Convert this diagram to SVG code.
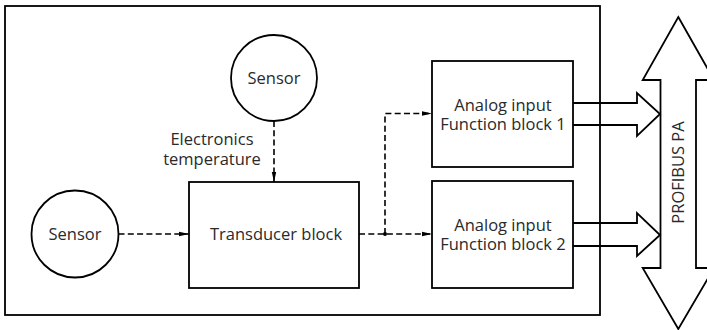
<svg xmlns="http://www.w3.org/2000/svg" width="707" height="330" viewBox="0 0 707 330">
<style>
.box{fill:#fff;stroke:#000;stroke-width:1.8}
.frame{fill:none;stroke:#000;stroke-width:1.8}
.hollow{fill:none;stroke:#000;stroke-width:1.8;stroke-linejoin:miter}
.dash{fill:none;stroke:#000;stroke-width:1.6;stroke-dasharray:6 3.3}
text{font-family:"Open Sans","Noto Sans","DejaVu Sans",sans-serif;font-size:16.5px;fill:#2a2a2a;text-anchor:middle}
</style>
<defs>
<marker id="ah" markerWidth="10" markerHeight="6" refX="10" refY="3" orient="auto" markerUnits="userSpaceOnUse">
<path d="M0,0.8 L10,3 L0,5.2 Z" fill="#000"/>
</marker>
</defs>
<rect id="device" class="frame" x="5" y="6" width="595" height="309"/>
<g id="sensor-top">
<circle class="box" cx="274" cy="78" r="43"/>
<text x="274" y="84">Sensor</text>
</g>
<g id="sensor-left">
<circle class="box" cx="75" cy="234" r="43.5"/>
<text x="75" y="240">Sensor</text>
</g>
<g id="transducer">
<rect class="box" x="189" y="182" width="170" height="106"/>
<text x="276" y="240">Transducer block</text>
</g>
<g id="fb1">
<rect class="box" x="432" y="61" width="141" height="106"/>
<text x="503" y="110.5">Analog input</text>
<text x="503" y="129.5">Function block 1</text>
</g>
<g id="fb2">
<rect class="box" x="432" y="181" width="141" height="107"/>
<text x="503" y="230.5">Analog input</text>
<text x="503" y="249.5">Function block 2</text>
</g>
<g id="bus">
<path class="hollow" d="M678.3,17 L714,80 L696,80 L696,268 L714,268 L678.3,329 L642.7,268 L660.5,268 L660.5,80 L642.7,80 Z"/>
<text transform="translate(684,172.5) rotate(-90)">PROFIBUS PA</text>
</g>
<g id="connectors">
<path class="dash" d="M274,121 L274,182" marker-end="url(#ah)"/>
<text x="212" y="145">Electronics</text>
<text x="212" y="164.5">temperature</text>
<path class="dash" d="M118.5,234 L189,234" marker-end="url(#ah)"/>
<path class="dash" d="M359,234 L432,234" marker-end="url(#ah)"/>
<path class="dash" d="M385,234 L385,113.5 L432,113.5" marker-end="url(#ah)"/>
<circle cx="385" cy="234" r="2" fill="#000"/>
<path class="hollow" d="M573,103 L637,103 L637,93 L660,114 L637,136 L637,125 L573,125"/>
<path class="hollow" d="M573,223 L637,223 L637,213 L660,235 L637,256 L637,246 L573,246"/>
</g>
</svg>
